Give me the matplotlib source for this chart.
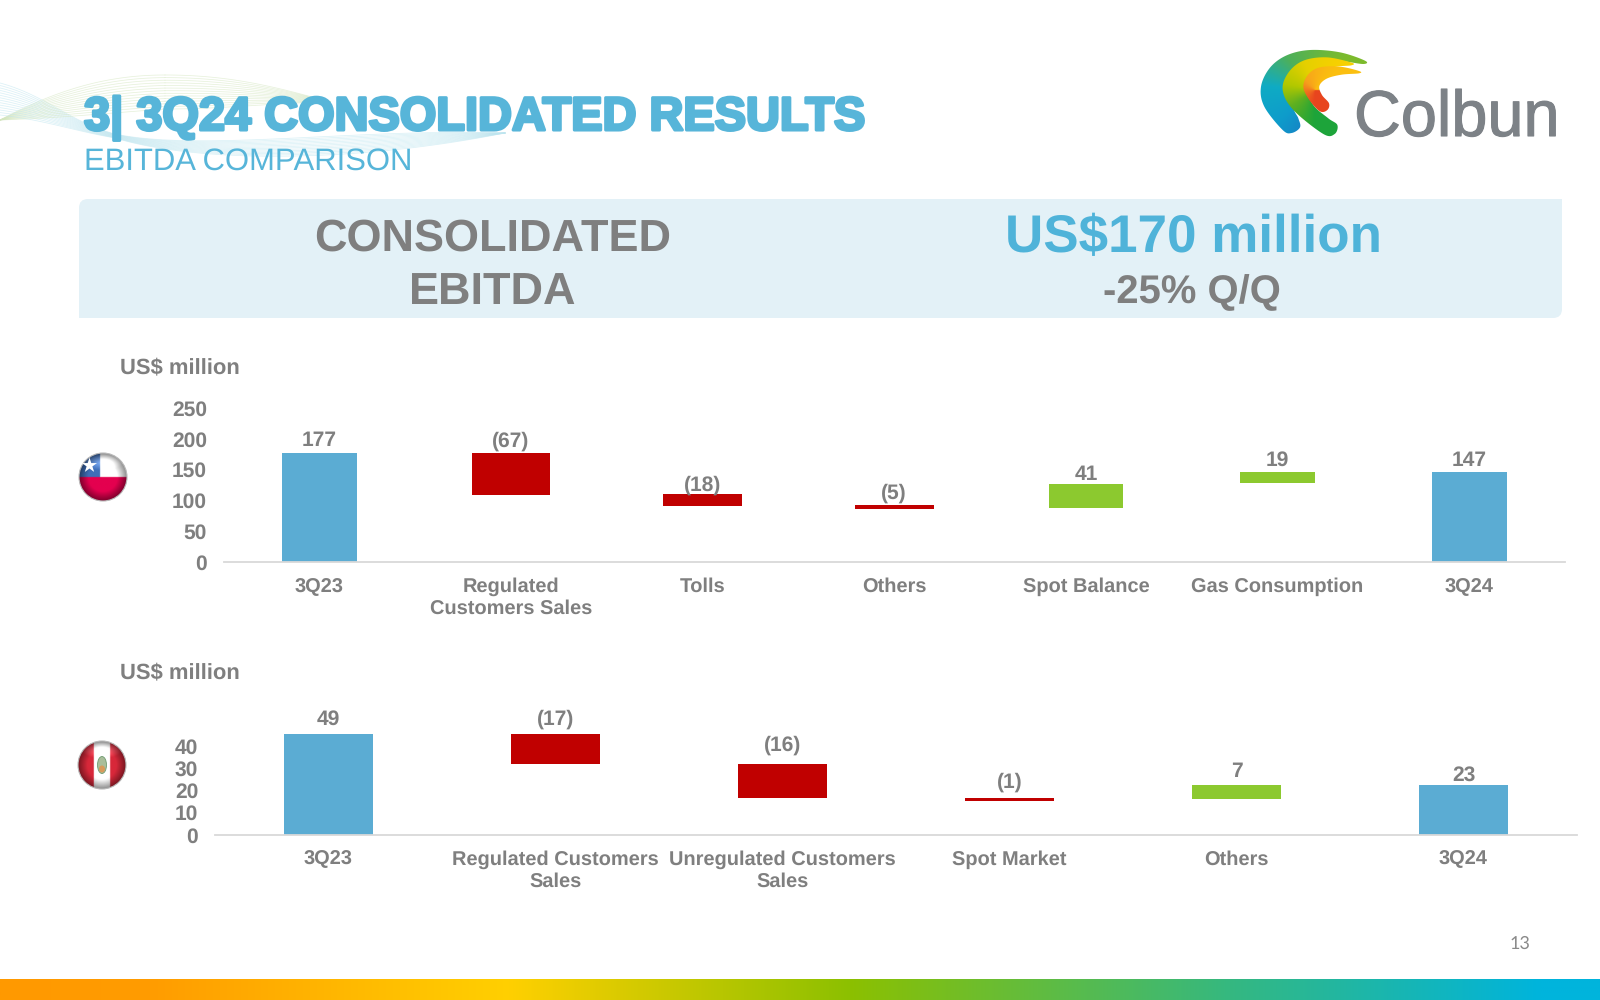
import numpy as np
import matplotlib
matplotlib.use("Agg")
import matplotlib.pyplot as plt
from matplotlib.patches import Circle, PathPatch, Polygon, Ellipse
from matplotlib.path import Path
import matplotlib.patheffects as pe
from matplotlib.colors import to_rgb

# ---- data ----
chile_cats = ["3Q23", "Regulated\nCustomers Sales", "Tolls", "Others", "Spot Balance", "Gas Consumption", "3Q24"]
chile_low = [0, 109, 91, 87, 88, 128, 0]
chile_high = [177, 177, 110, 92.5, 127, 147, 147]
chile_text = ["177", "(67)", "(18)", "(5)", "41", "19", "147"]
chile_kind = ["total", "down", "down", "down", "up", "up", "total"]
chile_ticks = [0, 50, 100, 150, 200, 250]

peru_cats = ["3Q23", "Regulated Customers\nSales", "Unregulated Customers\nSales", "Spot Market", "Others", "3Q24"]
peru_low = [0, 32, 16.5, 15.2, 16, 0]
peru_high = [49, 49, 32, 16.5, 22.5, 22.5]
peru_text = ["49", "(17)", "(16)", "(1)", "7", "23"]
peru_kind = ["total", "down", "down", "down", "up", "total"]
peru_ticks = [0, 10, 20, 30, 40]

GRAY = "#7F7F7F"
BLUE = "#57B5D9"
KCOL = {"total": "#5BACD3", "down": "#C00000", "up": "#8CC92F"}
FONT = "Liberation Sans"
plt.rcParams["font.family"] = [FONT, "DejaVu Sans"]
plt.rcParams["text.hinting"] = "no_hinting"
plt.rcParams["text.hinting_factor"] = 1

fig = plt.figure(figsize=(16, 10), dpi=100, facecolor="white")
ov = fig.add_axes([0, 0, 1, 1], zorder=0)
ov.set_xlim(0, 1600)
ov.set_ylim(1000, 0)
ov.axis("off")


def gradient_image(x0, x1, y0, y1, rgb, clip=None, z=2):
    im = ov.imshow(rgb, extent=(x0, x1, y1, y0), origin="upper", aspect="auto",
                   zorder=z, interpolation="bilinear")
    if clip is not None:
        im.set_clip_path(clip)
    return im


def ramp(t, stops):
    xs = [s[0] for s in stops]
    cols = np.array([to_rgb(s[1]) for s in stops])
    return np.stack([np.interp(t, xs, cols[:, i]) for i in range(3)], axis=-1)


# ---- bottom gradient band ----
band = ramp(np.linspace(0, 1600, 800)[None, :],
            [(0, "#FF9900"), (150, "#FF9C00"), (510, "#FFD000"), (850, "#8CC000"),
             (1230, "#35B880"), (1540, "#00B4DC"), (1600, "#00B4DC")])
gradient_image(0, 1600, 979, 1000, band)


# ---- decorative waves behind the title ----
def bez(p0, p1, p2, p3, n=80):
    t = np.linspace(0, 1, n)[:, None]
    p0, p1, p2, p3 = map(np.array, (p0, p1, p2, p3))
    return (1-t)**3*p0 + 3*(1-t)**2*t*p1 + 3*(1-t)*t**2*p2 + t**3*p3


n_w = 14
WG, WB = "#D3E6BE", "#BDE5EF"
for i in range(n_w):
    f = i / (n_w - 1)
    kw = dict(lw=0.55, alpha=0.55, zorder=1)
    c = bez((0, 120), (60, 88 + 30*f), (110, 75 + 38*f), (165, 75 + 34*f))
    ov.plot(c[:, 0], c[:, 1], color=WG, **kw)
    c = bez((165, 75 + 34*f), (225, 75 + 34*f), (270, 85 + 18*f), (330, 102))
    ov.plot(c[:, 0], c[:, 1], color=WG, **kw)
    c = bez((0, 83 + 32*f), (45, 95 + 25*f), (70, 122 + 8*f), (115, 134 + 4*f))
    ov.plot(c[:, 0], c[:, 1], color=WB, **kw)
    c = bez((115, 134 + 4*f), (200, 152 + 12*f), (360, 128 + 34*f), (505, 133))
    ov.plot(c[:, 0], c[:, 1], color=WB, **kw)

# ---- title block ----
ov.text(84, 130, "3| 3Q24 CONSOLIDATED RESULTS", fontsize=33.8, fontweight="bold", color=BLUE,
        va="baseline", ha="left", zorder=3,
        path_effects=[pe.withStroke(linewidth=2.2, foreground=BLUE)])
ov.text(84, 170, "EBITDA COMPARISON", fontsize=22, color=BLUE, va="baseline", ha="left", zorder=3)


# ---- logo ----
def smooth(pts, n=14):
    """Closed Catmull-Rom outline through hand-read outline points."""
    p = np.array(pts, float)
    out = []
    m = len(p)
    for i in range(m):
        a, b, c, d = p[(i-1) % m], p[i], p[(i+1) % m], p[(i+2) % m]
        for t in np.linspace(0, 1, n, endpoint=False):
            out.append(0.5*((2*b) + (c-a)*t + (2*a-5*b+4*c-d)*t*t + (3*b-a-3*c+d)*t**3))
    return np.array(out)


def zoompts(z):
    return [(1260 + a/3, 40 + b/3) for a, b in z]


shapes = [
    ([(315, 62), (240, 37), (150, 30), (80, 46), (30, 83), (3, 140), (13, 200), (68, 270), (95, 279),
      (120, 262), (115, 235), (100, 200), (100, 120), (180, 60), (250, 64), (310, 72)],
     [(0, "#1B78C2"), (0.22, "#0E9CCB"), (0.42, "#0FABC4"), (0.62, "#4DB05A"), (1, "#7DBB2C")]),
    ([(275, 68), (200, 52), (130, 62), (85, 98), (68, 150), (100, 210), (190, 282), (224, 282), (232, 255),
      (205, 235), (160, 195), (140, 140), (170, 95), (230, 80), (274, 76)],
     [(0, "#1DA43A"), (0.25, "#5FB020"), (0.45, "#B2C800"), (0.7, "#E4D000"), (1, "#F8D000")]),
    ([(297, 93), (240, 80), (180, 82), (145, 103), (130, 140), (148, 180), (180, 214), (202, 210), (207, 190),
      (186, 165), (178, 138), (200, 116), (245, 104), (297, 100)],
     [(0, "#E8451F"), (0.35, "#F0701E"), (0.6, "#F7A01C"), (1, "#FBBF10")]),
]
cx, cy = 1315, 90
xx, yy = np.meshgrid(np.linspace(1255, 1375, 240), np.linspace(40, 145, 210))
ang = np.arctan2(cx - xx, yy - cy)  # 0 = straight down, grows through left to top
ang[ang < -np.pi/2] += 2*np.pi
tt = np.clip(ang / (1.25*np.pi), 0, 1)
for z, (pts, stops) in enumerate(shapes):
    poly = Polygon(smooth(zoompts(pts)), closed=True, transform=ov.transData, fc="none", ec="none")
    ov.add_patch(poly)
    gradient_image(1255, 1375, 40, 145, ramp(tt, stops), clip=poly, z=2 + z*0.1)

ov.text(1354, 136, "Colbun", fontsize=46.7, color="#7D8287", va="baseline", ha="left", zorder=3,
        path_effects=[pe.withStroke(linewidth=0.8, foreground="#7D8287")])

# ---- headline panel ----
x0, x1, y0, y1, r = 79, 1562, 199, 318, 9
verts = [(x0 + r, y0), (x1, y0), (x1, y1 - r), (x1, y1), (x1 - r, y1), (x0, y1), (x0, y0 + r), (x0, y0), (x0 + r, y0), (x0 + r, y0)]
codes = [Path.MOVETO, Path.LINETO, Path.LINETO, Path.CURVE3, Path.CURVE3, Path.LINETO, Path.LINETO, Path.CURVE3, Path.CURVE3, Path.CLOSEPOLY]
ov.add_patch(PathPatch(Path(verts, codes), fc="#E3F1F7", ec="none", zorder=1))
for x, y, s, size, col in [
    (493, 239, "CONSOLIDATED", 32.6, GRAY),
    (493, 292, "EBITDA", 32.6, GRAY),
    (1193, 238, "US$170 million", 38.4, "#4FB3D9"),
    (1192, 293, "-25% Q/Q", 29, GRAY),
]:
    ov.text(x, y, s, fontsize=size, fontweight="bold", color=col, ha="center", va="center", zorder=3)

ov.text(119.5, 368, "US$ million", fontsize=15.5, fontweight="bold", color=GRAY, va="center", ha="left", zorder=3)
ov.text(119.5, 673, "US$ million", fontsize=15.5, fontweight="bold", color=GRAY, va="center", ha="left", zorder=3)
ov.text(1520, 944, "13", fontsize=13, family=["Lato", FONT], color="#8A8A8A", ha="center", va="center", zorder=3)


# ---- flags ----
def flag(cx, cy, rad, painter):
    s = 200
    xs, ys = np.meshgrid(np.linspace(-1, 1, s), np.linspace(-1, 1, s))
    rgb = painter(xs, ys)
    rr = np.sqrt(xs**2 + ys**2)
    shade = 1 - 0.45*np.clip(rr - 0.6, 0, 1)/0.4
    gloss = 0.28*np.clip(1 - np.sqrt((xs/0.85)**2 + ((ys + 0.62)/0.34)**2), 0, 1)
    rgb = np.clip(rgb*shade[..., None] + gloss[..., None], 0, 1)
    ring = Circle((cx, cy), rad, transform=ov.transData, fc="none", ec="none")
    ov.add_patch(ring)
    gradient_image(cx - rad, cx + rad, cy - rad, cy + rad, rgb, clip=ring, z=2)
    ov.add_patch(Circle((cx, cy), rad, fc="none", ec="#B9B9B9", lw=0.8, zorder=2.2))


def chile_paint(xs, ys):
    img = np.ones(xs.shape + (3,))
    img[ys >= 0] = to_rgb("#E4004F")
    img[(ys < 0) & (xs < -0.12)] = to_rgb("#3F6FB8")
    return img


def peru_paint(xs, ys):
    img = np.ones(xs.shape + (3,))
    img[np.abs(xs) > 0.34] = to_rgb("#D8283A")
    return img


flag(103, 477, 24, chile_paint)
ov.scatter([89], [465], marker="*", s=130, color="white", zorder=2.5, linewidths=0)
flag(102, 765, 24, peru_paint)
ov.add_patch(Ellipse((102, 765), 9, 17, fc="#A9BE9A", ec="#6F9A70", lw=0.6, zorder=2.5))
ov.add_patch(Ellipse((102, 769), 6, 7, fc="#D89A5A", ec="none", zorder=2.6))


# ---- charts ----
def chart(rect_px, ymax, cats, low, high, text, kinds, ticks, gaps, ypad, down_w):
    l, t, r_, b = rect_px
    ax = fig.add_axes([l/1600, 1 - b/1000, (r_ - l)/1600, (b - t)/1000], zorder=2)
    ax.patch.set_alpha(0)
    x = np.arange(len(cats))
    low, high = np.array(low, float), np.array(high, float)
    widths = [down_w if k == "down" else 0.39 for k in kinds]
    ax.bar(x, high - low, bottom=low, width=widths, color=[KCOL[k] for k in kinds], linewidth=0)
    ax.set_xlim(-0.5, len(cats) - 0.5)
    ax.set_ylim(0, ymax)
    ax.set_xticks(x, cats)
    ax.set_yticks(ticks)
    ax.tick_params(axis="both", length=0, labelcolor=GRAY)
    ax.tick_params(axis="x", pad=11, labelsize=14.4)
    ax.tick_params(axis="y", pad=ypad, labelsize=15)
    for lab in ax.get_xticklabels() + ax.get_yticklabels():
        lab.set_fontweight("bold")
        lab.set_linespacing(1.22)
    for s in ("top", "left", "right"):
        ax.spines[s].set_visible(False)
    ax.spines["bottom"].set_color("#D9D9D9")
    ax.spines["bottom"].set_linewidth(1.3)
    for xi, hi, s, g in zip(x, high, text, gaps):
        ax.annotate(s, (xi, min(hi, ymax)), xytext=(0, g*0.72), textcoords="offset points",
                    ha="center", va="center", fontsize=15, fontweight="bold", color=GRAY,
                    annotation_clip=False, zorder=5)
    return ax


chart((223.5, 408, 1565, 562.2), 250, chile_cats, chile_low, chile_high, chile_text, chile_kind,
      chile_ticks, [12, 12, 9, 12, 9, 11, 11], 12, 0.41)
chart((215, 733.7, 1577, 834.7), 45.5, peru_cats, peru_low, peru_high, peru_text, peru_kind,
      peru_ticks, [14, 14, 18, 16, 13, 9], 12, 0.395)

ov.set_xlim(0, 1600)
ov.set_ylim(1000, 0)
fig.savefig("out.png", dpi=100)
